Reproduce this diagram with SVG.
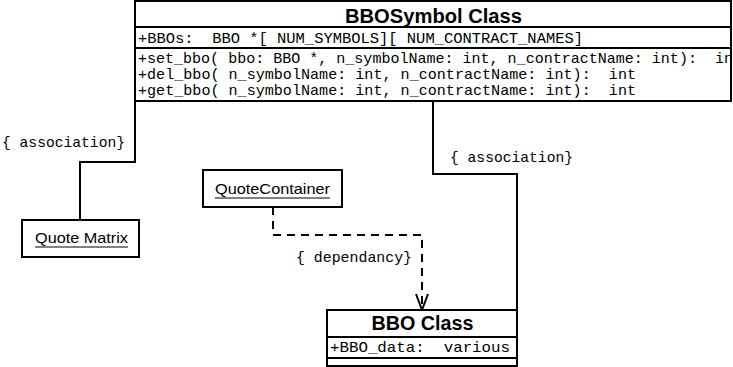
<svg xmlns="http://www.w3.org/2000/svg" width="733" height="367" viewBox="0 0 733 367">
  <style>
    .box { fill: #ffffff; stroke: #000000; stroke-width: 2; }
    .sep { stroke: #000000; stroke-width: 2; fill: none; }
    .title { font-family: "Liberation Sans", Arial, sans-serif; font-weight: bold; font-size: 20px; fill: #000000; text-anchor: middle; }
    .mono { font-family: "Liberation Mono", "Courier New", monospace; font-size: 15px; fill: #000000; white-space: pre; }
    .obj { font-family: "Liberation Sans", Arial, sans-serif; font-size: 15px; fill: #000000; }
    .uline { stroke: #808080; stroke-width: 2; }
    .wire { fill: none; stroke: #000000; stroke-width: 2; }
    .dash { fill: none; stroke: #000000; stroke-width: 2; stroke-dasharray: 8 6; }
  </style>
  <defs>
    <clipPath id="symClip">
      <rect x="136" y="2" width="594" height="98"/>
    </clipPath>
  </defs>
  <rect width="733" height="367" fill="#ffffff"/>

  <!-- connectors -->
  <g id="connectors">
    <polyline class="wire" points="135,101 135,162 80,162 80,220"/>
    <text class="mono" x="2" y="147" textLength="123" lengthAdjust="spacingAndGlyphs">{ association}</text>
    <polyline class="wire" points="433,101 433,174 517,174 517,310"/>
    <text class="mono" x="450" y="162" textLength="123" lengthAdjust="spacingAndGlyphs">{ association}</text>
    <polyline class="dash" points="273,207 273,235 422,235 422,309"/>
    <polyline class="wire" points="416,294 422,310 428,294"/>
    <text class="mono" x="296" y="262" textLength="116" lengthAdjust="spacingAndGlyphs">{ dependancy}</text>
  </g>

  <!-- BBOSymbol class -->
  <g id="BBOSymbol">
    <rect class="box" x="135" y="1" width="596" height="100"/>
    <line class="sep" x1="135" y1="27" x2="731" y2="27"/>
    <line class="sep" x1="135" y1="48" x2="731" y2="48"/>
    <text class="title" x="433.5" y="23" textLength="177" lengthAdjust="spacingAndGlyphs">BBOSymbol Class</text>
    <g clip-path="url(#symClip)">
      <text class="mono" x="138" y="43" textLength="445" lengthAdjust="spacingAndGlyphs">+BBOs:  BBO *[ NUM_SYMBOLS][ NUM_CONTRACT_NAMES]</text>
      <text class="mono" x="138" y="63" textLength="604" lengthAdjust="spacingAndGlyphs">+set_bbo( bbo: BBO *, n_symbolName: int, n_contractName: int):  int</text>
      <text class="mono" x="138" y="79" textLength="498" lengthAdjust="spacingAndGlyphs">+del_bbo( n_symbolName: int, n_contractName: int):  int</text>
      <text class="mono" x="138" y="95" textLength="498" lengthAdjust="spacingAndGlyphs">+get_bbo( n_symbolName: int, n_contractName: int):  int</text>
    </g>
  </g>

  <!-- QuoteMatrix object -->
  <g id="QuoteMatrix">
    <rect class="box" x="22" y="220" width="117" height="37"/>
    <text class="obj" x="35" y="243" textLength="93" lengthAdjust="spacingAndGlyphs">Quote Matrix</text>
    <line class="uline" x1="35" y1="247" x2="128" y2="247"/>
  </g>

  <!-- QuoteContainer object -->
  <g id="QuoteContainer">
    <rect class="box" x="203" y="170" width="139" height="37"/>
    <text class="obj" x="215" y="194" textLength="115" lengthAdjust="spacingAndGlyphs">QuoteContainer</text>
    <line class="uline" x1="215" y1="198" x2="330" y2="198"/>
  </g>

  <!-- BBO class -->
  <g id="BBO">
    <rect class="box" x="327" y="310" width="190" height="56"/>
    <line class="sep" x1="327" y1="337" x2="517" y2="337"/>
    <line class="sep" x1="327" y1="358" x2="517" y2="358"/>
    <text class="title" x="422.5" y="329.5" textLength="102" lengthAdjust="spacingAndGlyphs">BBO Class</text>
    <text class="mono" x="330" y="352" textLength="180" lengthAdjust="spacingAndGlyphs">+BBO_data:  various</text>
  </g>
</svg>
